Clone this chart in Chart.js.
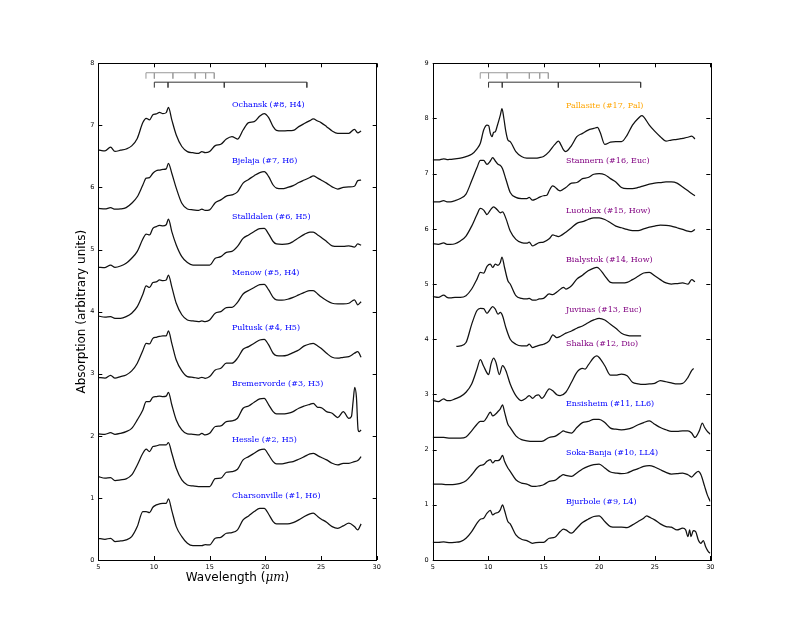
<!DOCTYPE html>
<html>
<head>
<meta charset="utf-8">
<script src="https://cdn.jsdelivr.net/npm/chart.js@4/dist/chart.umd.min.js"></script>
<style>
  html, body { margin: 0; padding: 0; background: #fff; }
  #wrap { position: relative; width: 789px; height: 641px; }
  #wrap canvas { position: absolute; top: 0; }
  #left { left: 0; }
  #right { left: 394px; }
</style>
</head>
<body>
<div id="wrap">
  <canvas id="left" width="394" height="641"></canvas>
  <canvas id="right" width="395" height="641"></canvas>
</div>
<script>
// wavelength grid (um) shared by the H chondrite spectra
const leftWave = [5, 5.6, 6.1, 6.5, 7, 7.5, 8, 8.5, 9, 9.3, 9.6, 9.9, 10.2, 10.5, 10.8, 11.1, 11.3, 11.6, 12, 12.5, 13, 13.5, 14, 14.3, 14.6, 15, 15.5, 16, 16.5, 17, 17.5, 18, 18.5, 19, 19.5, 19.9, 20.3, 20.7, 21, 21.5, 22, 22.5, 23, 23.5, 24, 24.3, 24.7, 25, 25.5, 26, 26.5, 27, 27.5, 28, 28.3, 28.6];

const ochansk = [6.604, 6.59, 6.65, 6.58, 6.6, 6.62, 6.67, 6.79, 7.045, 7.114, 7.09, 7.17, 7.184, 7.21, 7.19, 7.206, 7.29, 7.09, 6.846, 6.66, 6.578, 6.56, 6.55, 6.578, 6.56, 6.578, 6.674, 6.696, 6.78, 6.82, 6.78, 6.926, 7.045, 7.06, 7.15, 7.19, 7.125, 6.98, 6.92, 6.91, 6.916, 6.92, 6.98, 7.03, 7.077, 7.104, 7.07, 7.045, 6.98, 6.91, 6.873, 6.873, 6.873, 6.937, 6.88, 6.91];
const bjelaja = [5.665, 5.654, 5.675, 5.65, 5.654, 5.675, 5.745, 5.85, 6.04, 6.15, 6.16, 6.23, 6.27, 6.28, 6.29, 6.3, 6.39, 6.23, 5.99, 5.745, 5.654, 5.64, 5.63, 5.65, 5.63, 5.64, 5.755, 5.8, 5.86, 5.88, 5.93, 6.07, 6.13, 6.19, 6.24, 6.255, 6.175, 6.04, 5.99, 5.98, 6.0, 6.03, 6.08, 6.12, 6.16, 6.185, 6.15, 6.12, 6.07, 6.01, 5.975, 6.0, 6.01, 6.02, 6.11, 6.12];
const stalldalen = [4.715, 4.71, 4.75, 4.715, 4.735, 4.78, 4.86, 4.97, 5.17, 5.25, 5.235, 5.34, 5.37, 5.39, 5.38, 5.4, 5.49, 5.29, 5.075, 4.886, 4.79, 4.75, 4.75, 4.75, 4.75, 4.75, 4.86, 4.886, 4.955, 4.97, 5.05, 5.18, 5.235, 5.29, 5.337, 5.34, 5.25, 5.13, 5.09, 5.085, 5.09, 5.13, 5.19, 5.245, 5.28, 5.28, 5.235, 5.2, 5.13, 5.06, 5.05, 5.05, 5.06, 5.04, 5.09, 5.07];
const menow = [3.93, 3.91, 3.92, 3.893, 3.893, 3.92, 3.975, 4.08, 4.28, 4.414, 4.39, 4.47, 4.48, 4.51, 4.5, 4.51, 4.59, 4.4, 4.135, 3.95, 3.866, 3.85, 3.84, 3.85, 3.84, 3.866, 3.975, 4.0, 4.065, 4.07, 4.15, 4.285, 4.34, 4.39, 4.435, 4.44, 4.35, 4.23, 4.19, 4.185, 4.2, 4.23, 4.27, 4.31, 4.34, 4.34, 4.285, 4.24, 4.18, 4.135, 4.124, 4.124, 4.135, 4.19, 4.11, 4.16];
const pultusk = [2.943, 2.93, 2.975, 2.93, 2.954, 2.98, 3.045, 3.17, 3.373, 3.49, 3.48, 3.57, 3.587, 3.6, 3.61, 3.61, 3.69, 3.49, 3.22, 3.045, 2.954, 2.943, 2.927, 2.943, 2.927, 2.954, 3.061, 3.088, 3.17, 3.17, 3.25, 3.394, 3.437, 3.49, 3.544, 3.555, 3.464, 3.33, 3.292, 3.287, 3.3, 3.34, 3.383, 3.448, 3.48, 3.49, 3.448, 3.41, 3.33, 3.265, 3.25, 3.265, 3.276, 3.33, 3.357, 3.265];
const hessle = [1.343, 1.317, 1.327, 1.279, 1.29, 1.306, 1.37, 1.531, 1.719, 1.784, 1.746, 1.827, 1.837, 1.853, 1.853, 1.853, 1.891, 1.719, 1.478, 1.29, 1.209, 1.193, 1.182, 1.182, 1.182, 1.182, 1.311, 1.317, 1.413, 1.424, 1.461, 1.612, 1.665, 1.719, 1.773, 1.784, 1.692, 1.585, 1.547, 1.547, 1.569, 1.585, 1.623, 1.665, 1.708, 1.719, 1.682, 1.655, 1.612, 1.558, 1.531, 1.558, 1.558, 1.585, 1.601, 1.665];
const charsonville = [0.35, 0.334, 0.35, 0.297, 0.307, 0.323, 0.377, 0.538, 0.78, 0.78, 0.764, 0.85, 0.887, 0.903, 0.914, 0.914, 0.984, 0.796, 0.538, 0.377, 0.27, 0.232, 0.232, 0.232, 0.248, 0.243, 0.35, 0.366, 0.431, 0.442, 0.485, 0.646, 0.71, 0.78, 0.833, 0.833, 0.737, 0.619, 0.581, 0.581, 0.581, 0.603, 0.646, 0.7, 0.742, 0.753, 0.7, 0.662, 0.608, 0.538, 0.511, 0.549, 0.592, 0.538, 0.485, 0.581];

// Bremervorde has the sharp band near 28 um, so it gets its own grid
const bremWave = [5, 5.6, 6.1, 6.5, 7, 7.5, 8, 8.5, 9, 9.3, 9.6, 9.9, 10.2, 10.5, 10.8, 11.1, 11.3, 11.6, 12, 12.5, 13, 13.5, 14, 14.3, 14.6, 15, 15.5, 16, 16.5, 17, 17.5, 18, 18.5, 19, 19.5, 19.9, 20.3, 20.7, 21, 21.5, 22, 22.5, 23, 23.5, 24, 24.3, 24.7, 25, 25.5, 26, 26.5, 27, 27.5, 27.73, 27.88, 28.03, 28.18, 28.33, 28.42, 28.6];
const bremervorde = [2.03, 2.025, 2.05, 2.025, 2.04, 2.068, 2.12, 2.256, 2.417, 2.55, 2.55, 2.621, 2.632, 2.64, 2.632, 2.64, 2.7, 2.5, 2.256, 2.095, 2.03, 2.025, 2.014, 2.04, 2.014, 2.04, 2.15, 2.16, 2.23, 2.24, 2.283, 2.444, 2.48, 2.54, 2.594, 2.605, 2.5, 2.39, 2.353, 2.353, 2.363, 2.39, 2.444, 2.48, 2.508, 2.524, 2.46, 2.455, 2.39, 2.363, 2.294, 2.39, 2.28, 2.31, 2.55, 2.78, 2.62, 2.095, 2.068, 2.095];

// right panel spectra
const pallasiteWave = [5, 5.51, 5.99, 6.29, 6.59, 7.01, 7.49, 8, 8.51, 8.99, 9.29, 9.59, 9.89, 10.04, 10.19, 10.34, 10.49, 10.64, 10.79, 11.09, 11.24, 11.41, 11.59, 11.77, 11.98, 12.49, 13, 13.48, 13.99, 14.29, 14.59, 14.98, 15.49, 16, 16.33, 16.48, 16.78, 16.99, 17.5, 17.98, 18.49, 19, 19.51, 19.84, 20.08, 20.5, 21.01, 21.49, 22, 22.51, 22.99, 23.5, 23.83, 24, 24.51, 24.99, 25.5, 26.01, 26.49, 27, 27.51, 27.99, 28.32, 28.62];
const pallasite = [7.25, 7.25, 7.27, 7.255, 7.26, 7.27, 7.28, 7.31, 7.35, 7.45, 7.55, 7.79, 7.88, 7.87, 7.73, 7.67, 7.75, 7.76, 7.85, 8.06, 8.18, 8.0, 7.76, 7.61, 7.58, 7.4, 7.31, 7.28, 7.28, 7.28, 7.29, 7.31, 7.4, 7.53, 7.59, 7.55, 7.43, 7.4, 7.51, 7.67, 7.73, 7.79, 7.82, 7.84, 7.75, 7.53, 7.57, 7.58, 7.58, 7.7, 7.88, 8.0, 8.05, 8.03, 7.88, 7.77, 7.67, 7.59, 7.61, 7.62, 7.64, 7.66, 7.68, 7.63];

const stannernWave = [5, 5.51, 5.99, 6.29, 6.59, 7.01, 7.49, 8, 8.51, 8.99, 9.29, 9.59, 9.89, 10.19, 10.4, 10.64, 10.88, 11.09, 11.29, 11.59, 11.98, 12.49, 13, 13.48, 13.69, 13.99, 14.29, 14.59, 14.98, 15.28, 15.49, 15.79, 16, 16.33, 16.48, 16.99, 17.5, 17.98, 18.49, 19, 19.51, 19.99, 20.5, 21.01, 21.49, 22, 22.51, 22.99, 23.5, 24, 24.51, 24.99, 25.5, 26.01, 26.49, 27, 27.51, 27.99, 28.32, 28.62];
const stannern = [6.487, 6.487, 6.51, 6.49, 6.49, 6.51, 6.55, 6.63, 6.87, 7.11, 7.24, 7.24, 7.17, 7.23, 7.29, 7.23, 7.17, 7.15, 7.09, 6.9, 6.66, 6.57, 6.55, 6.55, 6.57, 6.52, 6.54, 6.57, 6.6, 6.61, 6.69, 6.78, 6.76, 6.7, 6.69, 6.75, 6.83, 6.84, 6.91, 6.93, 6.99, 7.0, 6.98, 6.91, 6.85, 6.75, 6.73, 6.73, 6.75, 6.78, 6.81, 6.83, 6.84, 6.85, 6.85, 6.83, 6.76, 6.69, 6.64, 6.6];

const luotolaxWave = [5, 5.51, 5.99, 6.29, 6.59, 7.01, 7.49, 8, 8.51, 8.99, 9.29, 9.59, 9.89, 10.19, 10.49, 10.79, 11.09, 11.29, 11.59, 11.98, 12.49, 13, 13.48, 13.69, 13.99, 14.29, 14.59, 14.98, 15.49, 15.82, 16, 16.33, 16.48, 16.99, 17.5, 17.98, 18.49, 19, 19.51, 19.99, 20.5, 21.01, 21.49, 22, 22.51, 22.99, 23.5, 24, 24.51, 24.99, 25.5, 26.01, 26.49, 27, 27.51, 27.99, 28.32, 28.62];
const luotolax = [5.73, 5.72, 5.745, 5.72, 5.72, 5.73, 5.78, 5.87, 6.05, 6.26, 6.37, 6.34, 6.26, 6.34, 6.4, 6.35, 6.29, 6.31, 6.19, 5.96, 5.81, 5.75, 5.74, 5.76, 5.69, 5.72, 5.75, 5.76, 5.82, 5.89, 5.88, 5.86, 5.87, 5.94, 6.02, 6.1, 6.13, 6.17, 6.2, 6.2, 6.17, 6.11, 6.05, 6.02, 5.99, 5.97, 5.97, 6.0, 6.03, 6.05, 6.07, 6.065, 6.05, 6.02, 5.99, 5.96, 5.95, 5.99];

const bialystokWave = [5, 5.51, 5.99, 6.29, 6.59, 7.01, 7.49, 8, 8.51, 8.99, 9.29, 9.59, 9.89, 10.19, 10.4, 10.64, 10.88, 11.09, 11.24, 11.47, 11.77, 11.98, 12.49, 13, 13.48, 13.69, 13.99, 14.29, 14.59, 14.98, 15.49, 15.82, 16.33, 16.78, 16.99, 17.5, 17.98, 18.49, 19, 19.51, 19.78, 19.99, 20.5, 21.01, 21.49, 22, 22.51, 22.99, 23.5, 24, 24.51, 24.99, 25.5, 26.01, 26.49, 27, 27.51, 27.99, 28.32, 28.62];
const bialystok = [4.775, 4.76, 4.8, 4.76, 4.75, 4.76, 4.76, 4.79, 4.91, 5.09, 5.21, 5.2, 5.32, 5.36, 5.3, 5.36, 5.34, 5.39, 5.49, 5.3, 5.06, 5.0, 4.79, 4.74, 4.73, 4.74, 4.71, 4.71, 4.73, 4.74, 4.82, 4.81, 4.88, 4.94, 4.91, 4.97, 5.09, 5.16, 5.24, 5.29, 5.3, 5.28, 5.15, 5.03, 5.02, 5.02, 5.03, 5.08, 5.14, 5.2, 5.21, 5.15, 5.08, 5.02, 5.0, 5.01, 5.02, 5.0, 5.08, 5.04];

const juvinasWave = [7.13, 7.49, 8, 8.51, 8.99, 9.29, 9.59, 9.89, 10.19, 10.4, 10.64, 10.88, 11.09, 11.29, 11.59, 11.98, 12.49, 13, 13.48, 13.69, 13.99, 14.29, 14.59, 14.98, 15.49, 15.82, 16.18, 16.48, 16.99, 17.5, 17.98, 18.49, 19, 19.51, 19.99, 20.5, 21.01, 21.49, 22, 22.51, 22.99, 23.5, 23.77];
const juvinas = [3.87, 3.88, 3.94, 4.27, 4.52, 4.56, 4.555, 4.47, 4.545, 4.59, 4.545, 4.455, 4.485, 4.425, 4.21, 4.0, 3.91, 3.88, 3.88, 3.91, 3.85, 3.87, 3.89, 3.91, 3.97, 4.08, 4.03, 4.05, 4.11, 4.15, 4.2, 4.24, 4.3, 4.35, 4.38, 4.35, 4.27, 4.2, 4.11, 4.07, 4.06, 4.06, 4.06];

const shalkaWave = [5, 5.51, 5.99, 6.29, 6.59, 7.01, 7.49, 8, 8.51, 8.99, 9.29, 9.59, 10.04, 10.25, 10.49, 10.7, 11, 11.29, 11.59, 11.98, 12.49, 13, 13.33, 13.69, 13.99, 14.29, 14.53, 14.83, 14.98, 15.28, 15.49, 15.79, 16.18, 16.48, 16.99, 17.5, 17.98, 18.49, 18.73, 19, 19.51, 19.78, 19.99, 20.5, 21.01, 21.49, 22, 22.51, 22.99, 23.5, 24, 24.51, 24.99, 25.5, 26.01, 26.49, 27, 27.51, 27.99, 28.32, 28.5];
const shalka = [2.89, 2.87, 2.92, 2.89, 2.89, 2.92, 2.96, 3.04, 3.19, 3.46, 3.63, 3.51, 3.36, 3.55, 3.66, 3.58, 3.36, 3.52, 3.43, 3.19, 2.98, 2.89, 2.92, 2.98, 2.93, 2.98, 2.99, 2.93, 2.95, 3.05, 3.1, 3.07, 2.995, 2.98, 3.04, 3.22, 3.4, 3.47, 3.46, 3.53, 3.67, 3.7, 3.67, 3.52, 3.35, 3.35, 3.37, 3.34, 3.22, 3.19, 3.18, 3.19, 3.2, 3.25, 3.23, 3.21, 3.19, 3.2, 3.31, 3.43, 3.47];

const ensisheimWave = [5, 5.51, 5.99, 6.59, 7.01, 7.49, 8, 8.51, 8.99, 9.29, 9.59, 9.89, 10.19, 10.4, 10.64, 10.88, 11.09, 11.29, 11.47, 11.77, 11.98, 12.49, 13, 13.48, 13.99, 14.29, 14.59, 14.98, 15.49, 16, 16.48, 16.78, 16.99, 17.5, 17.98, 18.49, 19, 19.51, 19.99, 20.5, 21.01, 21.49, 22, 22.51, 22.99, 23.5, 24, 24.51, 24.99, 25.5, 26.01, 26.49, 27, 27.51, 27.99, 28.32, 28.62, 29.01, 29.28, 29.49, 29.73, 30];
const ensisheim = [2.22, 2.22, 2.22, 2.21, 2.21, 2.21, 2.23, 2.34, 2.46, 2.51, 2.51, 2.59, 2.68, 2.61, 2.64, 2.69, 2.74, 2.81, 2.68, 2.46, 2.4, 2.25, 2.18, 2.16, 2.15, 2.15, 2.15, 2.16, 2.22, 2.24, 2.3, 2.34, 2.32, 2.3, 2.4, 2.49, 2.51, 2.55, 2.55, 2.49, 2.39, 2.37, 2.36, 2.37, 2.4, 2.45, 2.49, 2.52, 2.46, 2.4, 2.36, 2.33, 2.33, 2.34, 2.34, 2.3, 2.22, 2.34, 2.48, 2.4, 2.33, 2.28];

const sokaBanjaWave = [5, 5.51, 5.99, 6.59, 7.01, 7.49, 8, 8.51, 8.99, 9.29, 9.59, 9.89, 10.19, 10.4, 10.64, 10.88, 11.09, 11.29, 11.47, 11.77, 11.98, 12.49, 13, 13.48, 13.99, 14.29, 14.59, 14.98, 15.49, 16, 16.48, 16.78, 16.99, 17.5, 17.98, 18.49, 19, 19.51, 19.99, 20.5, 21.01, 21.49, 22, 22.51, 22.99, 23.5, 24, 24.51, 24.99, 25.5, 26.01, 26.49, 27, 27.51, 27.99, 28.32, 28.62, 28.92, 29.16, 29.49, 29.73, 30];
const sokaBanja = [1.376, 1.376, 1.37, 1.364, 1.37, 1.39, 1.436, 1.545, 1.667, 1.715, 1.727, 1.788, 1.818, 1.758, 1.8, 1.8, 1.83, 1.897, 1.788, 1.667, 1.606, 1.455, 1.394, 1.376, 1.333, 1.333, 1.345, 1.364, 1.424, 1.442, 1.515, 1.545, 1.533, 1.515, 1.576, 1.648, 1.697, 1.727, 1.739, 1.667, 1.594, 1.576, 1.564, 1.576, 1.618, 1.655, 1.697, 1.709, 1.685, 1.636, 1.588, 1.558, 1.564, 1.576, 1.545, 1.503, 1.564, 1.606, 1.545, 1.333, 1.18, 1.06];

const bjurboleWave = [5, 5.51, 5.99, 6.59, 7.01, 7.49, 8, 8.51, 8.99, 9.29, 9.59, 9.89, 10.19, 10.4, 10.64, 10.88, 11.09, 11.29, 11.47, 11.77, 11.98, 12.49, 13, 13.48, 13.99, 14.29, 14.59, 14.98, 15.49, 16, 16.48, 16.78, 16.99, 17.5, 17.98, 18.49, 19, 19.51, 19.99, 20.5, 21.01, 21.49, 22, 22.51, 22.99, 23.5, 24, 24.27, 24.51, 24.99, 25.5, 26.01, 26.49, 27, 27.51, 27.78, 27.99, 28.14, 28.26, 28.47, 28.68, 28.92, 29.16, 29.37, 29.58, 29.82, 30];
const bjurbole = [0.321, 0.321, 0.327, 0.315, 0.321, 0.333, 0.394, 0.515, 0.667, 0.739, 0.758, 0.848, 0.897, 0.818, 0.848, 0.861, 0.909, 1.0, 0.897, 0.697, 0.655, 0.455, 0.376, 0.352, 0.303, 0.315, 0.321, 0.321, 0.394, 0.412, 0.515, 0.558, 0.545, 0.485, 0.576, 0.679, 0.739, 0.788, 0.8, 0.697, 0.606, 0.594, 0.594, 0.588, 0.636, 0.697, 0.758, 0.8, 0.776, 0.727, 0.655, 0.606, 0.594, 0.545, 0.576, 0.545, 0.424, 0.545, 0.424, 0.533, 0.515, 0.364, 0.303, 0.352, 0.242, 0.152, 0.121];

// band positions marked by the brackets above the spectra
const grayBands = [9.28, 10.03, 11.7, 13.7, 14.64, 15.41];
const blackBands = [10.03, 11.26, 16.31, 23.73];

const leftNames = ["Charsonville (#1, H6)", "Hessle (#2, H5)", "Bremervorde (#3, H3)", "Pultusk (#4, H5)", "Menow (#5, H4)", "Stalldalen (#6, H5)", "Bjelaja (#7, H6)", "Ochansk (#8, H4)"];
const leftLabelY = [1.03, 1.93, 2.84, 3.74, 4.63, 5.53, 6.43, 7.33];
const rightNames = ["Bjurbole (#9, L4)", "Soka-Banja (#10, LL4)", "Ensisheim (#11, LL6)", "Shalka (#12, Dio)", "Juvinas (#13, Euc)", "Bialystok (#14, How)", "Luotolax (#15, How)", "Stannern (#16, Euc)", "Pallasite (#17, Pal)"];
const rightLabelY = [1.05, 1.94, 2.83, 3.92, 4.54, 5.44, 6.33, 7.23, 8.23];

const BLUE = "#0000ff";
const PURPLE = "#800080";
const ORANGE = "#ffa500";

const tickFont = { family: "'DejaVu Sans', sans-serif", size: 6.5 };

const toPoints = (xs, ys) => {
  const n = Math.min(xs.length, ys.length);
  const pts = [];
  for (let i = 0; i < n; i++) pts.push({ x: xs[i], y: ys[i] });
  return pts;
};

// bracket: horizontal bar with short ticks hanging down at each band
const bracket = (bands, top, bottom, color) => {
  const pts = [];
  bands.forEach((x, i) => {
    if (i === 0) {
      pts.push({ x, y: bottom }, { x, y: top });
    } else {
      pts.push({ x, y: top }, { x, y: bottom }, { x, y: top });
    }
  });
  return {
    data: pts,
    borderColor: color,
    borderWidth: 1,
    pointRadius: 0,
    fill: false,
    tension: 0,
  };
};

const framePlugin = (panel) => ({
  id: "frame",
  afterDraw(chart) {
    const { ctx, chartArea: a } = chart;
    const xs = chart.scales.x;
    const ys = chart.scales.y;
    ctx.save();
    ctx.strokeStyle = "#000";
    ctx.lineWidth = 1;
    ctx.strokeRect(Math.round(a.left) + 0.5, Math.round(a.top) + 0.5, Math.round(a.right - a.left), Math.round(a.bottom - a.top));

    // inward tick marks on all four sides
    ctx.beginPath();
    xs.ticks.forEach((t) => {
      const px = Math.round(xs.getPixelForValue(t.value)) + 0.5;
      ctx.moveTo(px, a.bottom);
      ctx.lineTo(px, a.bottom - 4);
      ctx.moveTo(px, a.top);
      ctx.lineTo(px, a.top + 4);
    });
    ys.ticks.forEach((t) => {
      const py = Math.round(ys.getPixelForValue(t.value)) + 0.5;
      ctx.moveTo(a.left, py);
      ctx.lineTo(a.left + 4, py);
      ctx.moveTo(a.right, py);
      ctx.lineTo(a.right - 4, py);
    });
    ctx.stroke();

    // spectrum names
    ctx.font = "8px 'DejaVu Serif', serif";
    ctx.textBaseline = "middle";
    ctx.textAlign = "left";
    panel.names.forEach((name, i) => {
      ctx.fillStyle = panel.colors[i];
      ctx.fillText(name, xs.getPixelForValue(17), ys.getPixelForValue(panel.labelY[i]));
    });

    if (panel.titles) {
      ctx.fillStyle = "#000";
      ctx.font = "12px 'DejaVu Sans', sans-serif";
      const p1 = "Wavelength (";
      const p3 = ")";
      const w1 = ctx.measureText(p1).width;
      const w3 = ctx.measureText(p3).width;
      ctx.font = "italic 12px 'DejaVu Serif', serif";
      const w2 = ctx.measureText("\u03bcm").width;
      const x = (a.left + a.right) / 2 - (w1 + w2 + w3) / 2;
      const y = 578;
      ctx.font = "12px 'DejaVu Sans', sans-serif";
      ctx.fillText(p1, x, y);
      ctx.font = "italic 12px 'DejaVu Serif', serif";
      ctx.fillText("\u03bcm", x + w1, y);
      ctx.font = "12px 'DejaVu Sans', sans-serif";
      ctx.fillText(p3, x + w1 + w2, y);

      ctx.translate(82, (a.top + a.bottom) / 2);
      ctx.rotate(-Math.PI / 2);
      ctx.textAlign = "center";
      ctx.fillText("Absorption (arbitrary units)", 0, 0);
    }
    ctx.restore();
  },
});

const makeChart = (id, lines, panel) => {
  const datasets = lines.map(([xs, ys]) => ({
    data: toPoints(xs, ys),
    borderColor: "#111",
    borderWidth: 1.25,
    pointRadius: 0,
    fill: false,
    cubicInterpolationMode: "monotone",
  }));
  const hi = panel.yMax;
  datasets.push(bracket(grayBands, hi * 0.981, hi * 0.969, "#999999"));
  datasets.push(bracket(blackBands, hi * 0.962, hi * 0.951, "#333333"));

  return new Chart(document.getElementById(id), {
    type: "line",
    data: { datasets },
    options: {
      responsive: false,
      animation: false,
      events: [],
      layout: { padding: { top: 63.3, right: panel.padRight, left: 0, bottom: 0 } },
      plugins: { legend: { display: false }, tooltip: { enabled: false } },
      scales: {
        x: {
          type: "linear",
          min: 5,
          max: 30,
          ticks: { stepSize: 5, font: tickFont, color: "#000", padding: 3, maxRotation: 0 },
          grid: { display: false, drawTicks: false },
          border: { display: false },
          afterFit: (s) => { s.height = 81; },
        },
        y: {
          type: "linear",
          min: 0,
          max: hi,
          ticks: { stepSize: 1, font: tickFont, color: "#000", padding: 4 },
          grid: { display: false, drawTicks: false },
          border: { display: false },
          afterFit: (s) => { s.width = panel.axisWidth; },
        },
      },
    },
    plugins: [framePlugin(panel)],
  });
};

makeChart("left", [
  [leftWave, charsonville],
  [leftWave, hessle],
  [bremWave, bremervorde],
  [leftWave, pultusk],
  [leftWave, menow],
  [leftWave, stalldalen],
  [leftWave, bjelaja],
  [leftWave, ochansk],
], {
  yMax: 8,
  axisWidth: 98.3,
  padRight: 17.3,
  names: leftNames,
  labelY: leftLabelY,
  colors: leftNames.map(() => BLUE),
  titles: true,
});

makeChart("right", [
  [bjurboleWave, bjurbole],
  [sokaBanjaWave, sokaBanja],
  [ensisheimWave, ensisheim],
  [shalkaWave, shalka],
  [juvinasWave, juvinas],
  [bialystokWave, bialystok],
  [luotolaxWave, luotolax],
  [stannernWave, stannern],
  [pallasiteWave, pallasite],
], {
  yMax: 9,
  axisWidth: 38.7,
  padRight: 78.7,
  names: rightNames,
  labelY: rightLabelY,
  colors: [BLUE, BLUE, BLUE, PURPLE, PURPLE, PURPLE, PURPLE, PURPLE, ORANGE],
  titles: false,
});
</script>
</body>
</html>
